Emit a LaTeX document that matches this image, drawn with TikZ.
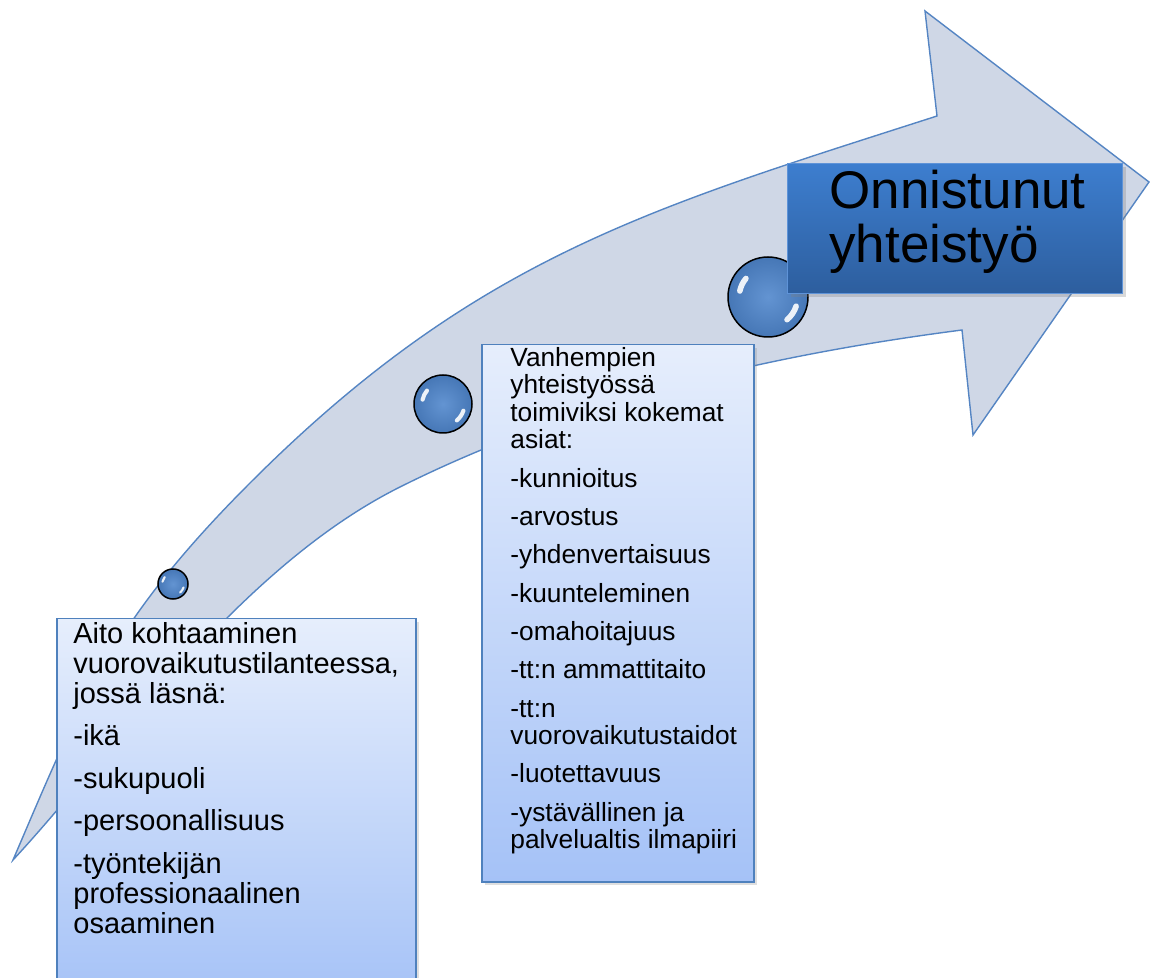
\documentclass[tikz,border=0pt]{standalone}
\usepackage{fontspec}
\setmainfont{Liberation Sans}
\usetikzlibrary{shadows,calc}
\definecolor{arrowfill}{HTML}{CFD7E6}
\definecolor{arrowline}{HTML}{5585C3}
\definecolor{boxtop}{HTML}{E6EEFC}
\definecolor{boxbot}{HTML}{A5C2F7}
\definecolor{boxline}{HTML}{4F81BD}
\definecolor{goaltop}{HTML}{3D7ECF}
\definecolor{goalbot}{HTML}{2D5E9E}
\definecolor{goalline}{HTML}{5E93D8}
\definecolor{ballin}{HTML}{6394D2}
\definecolor{ballout}{HTML}{4677B6}
\begin{document}
\begin{tikzpicture}[x=0.5pt,y=-0.5pt,
  arrowshape/.style={draw=arrowline, fill=arrowfill, line width=0.7pt, line join=miter},
  infobox/.style={draw=boxline, line width=0.75pt, top color=boxtop, bottom color=boxbot,
    drop shadow={shadow xshift=1.5pt, shadow yshift=-1.5pt, opacity=0.25},
    inner sep=0pt, anchor=north west},
  goalbox/.style={draw=goalline, line width=0.6pt, top color=goaltop, bottom color=goalbot,
    drop shadow={shadow xshift=1.5pt, shadow yshift=-1.5pt, opacity=0.3},
    inner sep=0pt, anchor=north west},
  ball/.style={circle, draw=black, line width=0.75pt, inner color=ballin, outer color=ballout, inner sep=0pt},
  hl/.style={white, line cap=round, opacity=0.9},
  txt/.style={anchor=north west, inner sep=0pt, align=left, text=black}]
\useasboundingbox (0,0) rectangle (1152,978);
\clip (0,0) rectangle (1152,978);
% curved arrow
\coordinate (tail) at (13,860);
\coordinate (bend1) at (250,483);
\coordinate (headU) at (937,116);
\coordinate (headT) at (925,11);
\coordinate (tip) at (1149,182);
\coordinate (headB) at (973,435);
\coordinate (headL) at (962,330);
\coordinate (bend2) at (400,487);
\draw[arrowshape] (tail) .. controls (80,704) and (109,624) .. (bend1)
  .. controls (476,257) and (651,208) .. (headU)
  -- (headT) -- (tip) -- (headB) -- (headL)
  .. controls (769,355) and (574,400) .. (bend2)
  .. controls (239,567.5) and (115,750) .. (tail) -- cycle;
% balls
\foreach \n/\cx/\cy/\r in {b1/173/584/15, b2/443/404/29, b3/768/297/40}{
  \node[ball, minimum size=\r*1pt] (\n) at (\cx,\cy) {};
  \draw[hl, line width=0.07*\r*1pt] (\n.center) ++(canvas polar cs:angle=140,radius=0.36*\r*1pt) arc[start angle=140,end angle=168,radius=0.36*\r*1pt];
  \draw[hl, line width=0.07*\r*1pt] (\n.center) ++(canvas polar cs:angle=-50,radius=0.37*\r*1pt) arc[start angle=-50,end angle=-18,radius=0.37*\r*1pt];
}
% boxes
\node[infobox, minimum width=179.5pt, minimum height=191pt] (box1) at (56,618) {};
\node[infobox, minimum width=136pt, minimum height=268.5pt] (box2) at (481,344) {};
\node[goalbox, minimum width=167.5pt, minimum height=65pt] (box3) at (787,163) {};
% texts
\node[txt, font=\fontsize{14.5}{15}\selectfont] (t1) at (73,621) {\rule{0pt}{11pt}Aito kohtaaminen\\vuorovaikutustilanteessa,\\jossä läsnä:\\[6.25pt]-ikä\\[6.25pt]-sukupuoli\\[6.25pt]-persoonallisuus\\[6.25pt]-työntekijän\\professionaalinen\\osaaminen};
\node[txt, font=\fontsize{13.15}{13.75}\selectfont] (t2) at (510,346) {\rule{0pt}{10pt}Vanhempien\\yhteistyössä\\toimiviksi kokemat\\asiat:\\[5.4pt]-kunnioitus\\[5.4pt]-arvostus\\[5.4pt]-yhdenvertaisuus\\[5.4pt]-kuunteleminen\\[5.4pt]-omahoitajuus\\[5.4pt]-tt:n ammattitaito\\[5.4pt]-tt:n\\vuorovaikutustaidot\\[5.4pt]-luotettavuus\\[5.4pt]-ystävällinen ja\\palvelualtis ilmapiiri};
\node[txt, font=\fontsize{26.5}{27}\selectfont] (t3) at (829,166) {\rule{0pt}{21pt}Onnistunut\\yhteistyö};
\end{tikzpicture}
\end{document}
